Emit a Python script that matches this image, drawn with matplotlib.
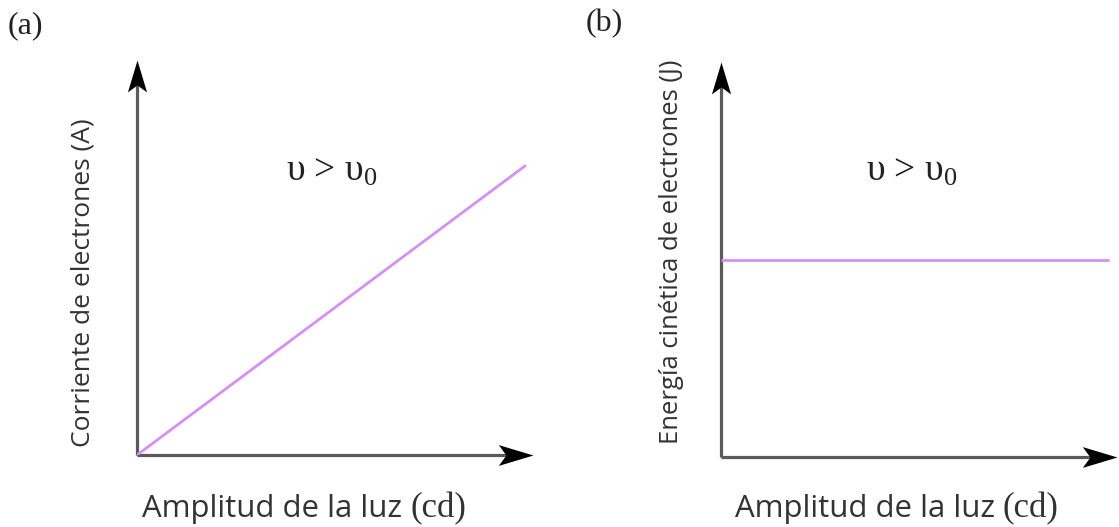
import matplotlib
matplotlib.use("Agg")
import matplotlib.pyplot as plt
import numpy as np
from matplotlib.path import Path

# ---- data ----
amplitude = [0.0, 0.98]
current = [0.0, 0.732]
energy = [0.50, 0.50]
panel_labels = ["(a)", "(b)"]
ylabels = ["Corriente de electrones (A)", "Energía cinética de electrones (J)"]
xlabel_main = "Amplitud de la luz"
xlabel_unit = "(cd)"
condition = "υ > υ$_0$"

W, H = 1119, 527
plt.rcParams['mathtext.fontset'] = 'custom'
plt.rcParams['mathtext.rm'] = 'Liberation Serif'
plt.rcParams['mathtext.it'] = 'Liberation Serif:italic'
fig = plt.figure(figsize=(W / 100, H / 100), dpi=100)
fig.patch.set_facecolor("white")

SANS = "Open Sans"
SERIF = "Liberation Serif"
LINE_C = "#d490f2"
AXIS_C = "#5a5a5a"

def fx(px):
    return px / W

def fy(py):
    return 1 - py / H

def fit(t, target_px, vertical=False):
    fig.canvas.draw()
    bb = t.get_window_extent()
    cur = bb.height if vertical else bb.width
    t.set_fontsize(t.get_fontsize() * target_px / cur)

# arrow head marker (tip at origin)
head_right = Path([(0, 0), (-1, 0.3), (-0.78, 0), (-1, -0.3), (0, 0)],
                  [Path.MOVETO, Path.LINETO, Path.LINETO, Path.LINETO, Path.CLOSEPOLY])
head_up = Path([(0, 0), (0.3, -1), (0, -0.78), (-0.3, -1), (0, 0)],
               [Path.MOVETO, Path.LINETO, Path.LINETO, Path.LINETO, Path.CLOSEPOLY])

def make_axes(left_px, bottom_px, right_px, top_px):
    ax = fig.add_axes([fx(left_px), fy(bottom_px), (right_px - left_px) / W, (bottom_px - top_px) / H])
    ax.set_xlim(0, 1)
    ax.set_ylim(0, 1)
    ax.axis("off")
    ax.plot([0, 0.96], [0, 0], color=AXIS_C, lw=2.3, solid_capstyle="butt", clip_on=False)
    ax.plot([0, 0], [0, 0.96], color=AXIS_C, lw=2.3, solid_capstyle="butt", clip_on=False)
    ax.plot([1], [0], marker=head_right, markersize=50, color="black", clip_on=False, markeredgewidth=0)
    ax.plot([0], [1], marker=head_up, markersize=46, color="black", clip_on=False, markeredgewidth=0)
    return ax

axa = make_axes(137, 455, 533, 60)
axa.plot(amplitude, current, color=LINE_C, lw=2.0, solid_capstyle="round", zorder=3)

axb = make_axes(721, 457, 1117, 62)
axb.plot(amplitude, energy, color=LINE_C, lw=2.0, solid_capstyle="butt", zorder=3)

# panel labels
fig.text(fx(8), fy(26), panel_labels[0], family=SERIF, fontsize=23, va="center", ha="left", color="#222222")
fig.text(fx(586), fy(24), panel_labels[1], family=SERIF, fontsize=23, va="center", ha="left", color="#222222")

# condition text
for left in (286, 866):
    fig.text(fx(left), fy(181), condition, family=SERIF, fontsize=27, va="baseline", ha="left", color="#222222")

# y labels
ya = fig.text(fx(83), fy(283), ylabels[0], family=SANS, fontsize=17, rotation=90,
              va="center", ha="center", color="#333333")
fit(ya, 330, vertical=True)
yb = fig.text(fx(671), fy(252), ylabels[1], family=SANS, fontsize=15, rotation=90,
              va="center", ha="center", color="#333333")
fit(yb, 385, vertical=True)

# x labels (mixed fonts)
for left in (142, 735):
    t1 = fig.text(fx(left), fy(517), xlabel_main, family=SANS, fontsize=19,
                  va="baseline", ha="left", color="#333333")
    fit(t1, 260)
    fig.canvas.draw()
    bb = t1.get_window_extent()
    fig.text((bb.x1 + 8) / W, fy(517), xlabel_unit, family=SERIF, fontsize=25,
             va="baseline", ha="left", color="#333333")

fig.savefig("out.png", dpi=100, facecolor="white")
